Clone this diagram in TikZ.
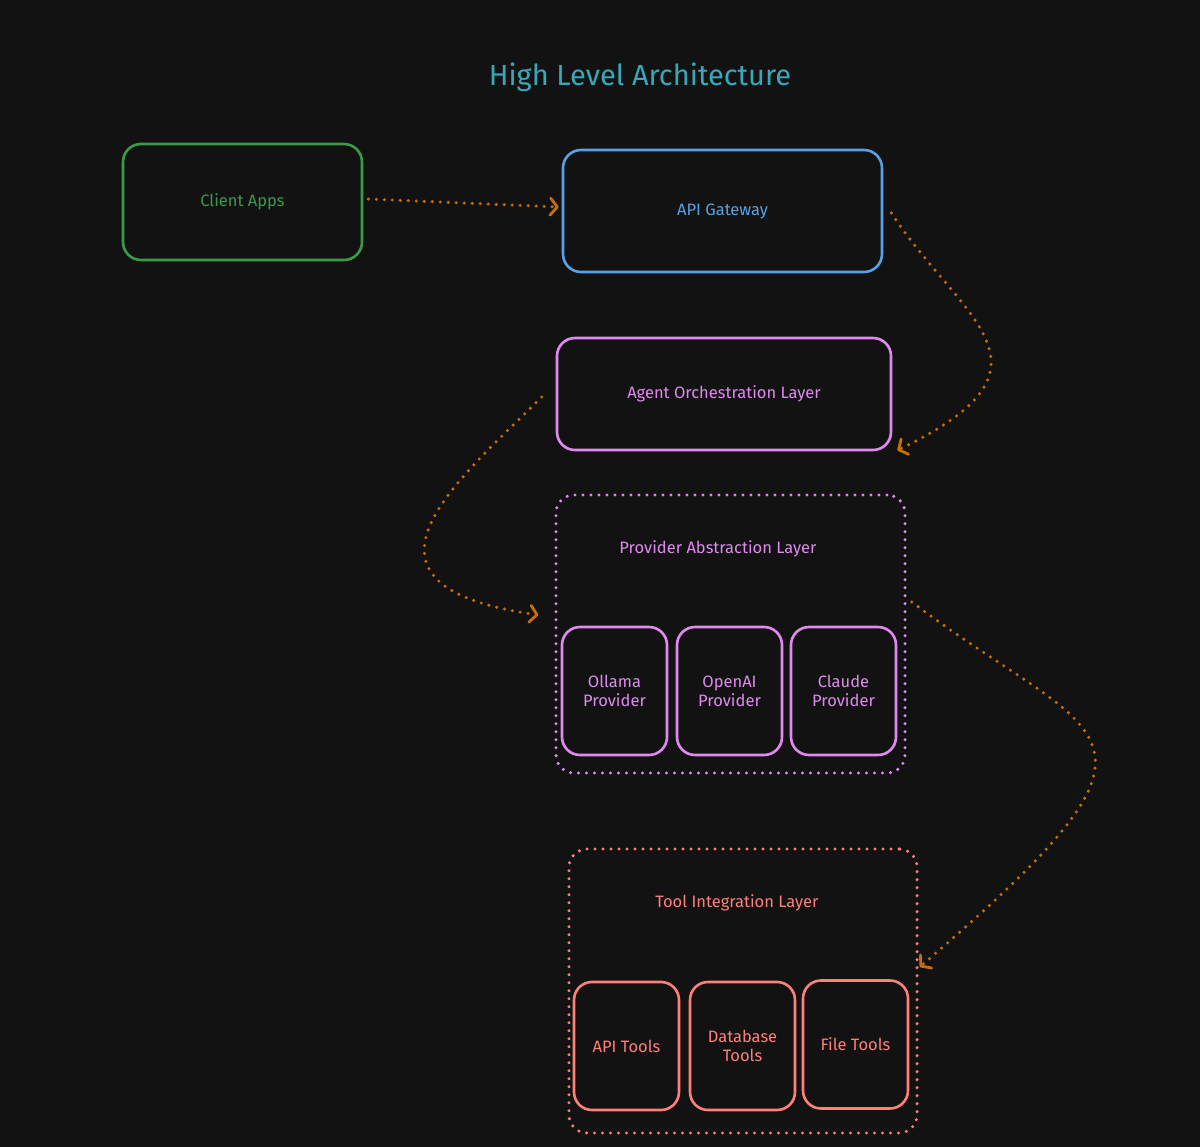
\documentclass[tikz,border=0pt]{standalone}
\usepackage{fontspec}
\setmainfont{Fira Sans}
\usetikzlibrary{arrows.meta}

\definecolor{bgdark}{HTML}{121212}
\definecolor{clientgreen}{HTML}{3A9A4A}
\definecolor{gatewayblue}{HTML}{55A2E8}
\definecolor{layerpurple}{HTML}{E08AF0}
\definecolor{toolred}{HTML}{FF7F7A}
\definecolor{flowbrown}{HTML}{C86E06}
\definecolor{titleteal}{HTML}{3AA7B8}

\tikzset{
  box/.style={draw=#1, text=#1, line width=2.6pt, rounded corners=18pt, inner sep=0pt,
    align=center, font=\fontsize{16.5}{19}\selectfont},
  groupbox/.style={draw=#1, line width=3.4pt, rounded corners=18pt, inner sep=0pt,
    dash pattern=on 0pt off 8pt, line cap=round},
  grouplabel/.style={text=#1, font=\fontsize{16.5}{19}\selectfont},
  flow/.style={draw=flowbrown, line width=3.4pt, dash pattern=on 0pt off 8pt, line cap=round,
    -{Straight Barb[round,length=7pt,width=17pt,line width=2.8pt]}},
}

\begin{document}
\begin{tikzpicture}[x=1pt, y=-1pt]
    % Background and page size
    \fill[bgdark] (0,0) rectangle (1200,1147);
    \useasboundingbox (0,0) rectangle (1200,1147);

    % Sizes of the small boxes
    \def\subw{105pt}
    \def\subh{128pt}

    % Title
    \node[text=titleteal, font=\fontsize{29}{34}\selectfont] (title) at (640,77) {High Level Architecture};

    % Draw the top boxes
    \node[box=clientgreen, minimum width=239pt, minimum height=116pt] (client) at (242.5,202) {Client Apps};
    \node[box=gatewayblue, minimum width=319pt, minimum height=122pt] (gateway) at (722.5,211) {API Gateway};
    \node[box=layerpurple, minimum width=334pt, minimum height=112pt] (agent) at (724,394) {Agent Orchestration Layer};

    % Draw the provider layer
    \node[groupbox=layerpurple, minimum width=349pt, minimum height=278pt] (provider) at (730.5,634) {};
    \node[grouplabel=layerpurple] (providerlabel) at (718,549) {Provider Abstraction Layer};
    \node[box=layerpurple, minimum width=\subw, minimum height=\subh] (ollama) at (614.5,691) {Ollama\\Provider};
    \node[box=layerpurple, minimum width=\subw, minimum height=\subh] (openai) at (729.5,691) {OpenAI\\Provider};
    \node[box=layerpurple, minimum width=\subw, minimum height=\subh] (claude) at (843.5,691) {Claude\\Provider};

    % Draw the tool layer
    \node[groupbox=toolred, minimum width=348pt, minimum height=284pt] (tools) at (743,991) {};
    \node[grouplabel=toolred] (toolslabel) at (737,903) {Tool Integration Layer};
    \node[box=toolred, minimum width=\subw, minimum height=\subh] (apitools) at (626.5,1046) {API Tools};
    \node[box=toolred, minimum width=\subw, minimum height=\subh] (dbtools) at (742.5,1046) {Database\\Tools};
    \node[box=toolred, minimum width=\subw, minimum height=\subh] (filetools) at (855.5,1044.5) {File Tools};

    % Draw the flow arrows
    \draw[flow] ([xshift=5pt,yshift=3pt]client.east) -- ([xshift=-3pt,yshift=4pt]gateway.west);
    \draw[flow] ([xshift=8pt,yshift=-2pt]gateway.east) .. controls +(70,107) and +(174,-84) .. ([xshift=5pt,yshift=1pt]agent.south east);
    \draw[flow] ([xshift=-14pt,yshift=-3pt]agent.west) .. controls +(-83,83) and +(-210,-30) .. ([xshift=-16pt,yshift=19pt]provider.west);
    \draw[flow] ([xshift=5pt,yshift=32pt]provider.east) .. controls +(190,143) and +(282,-242) .. ([xshift=1pt,yshift=24pt]tools.east);
\end{tikzpicture}
\end{document}
